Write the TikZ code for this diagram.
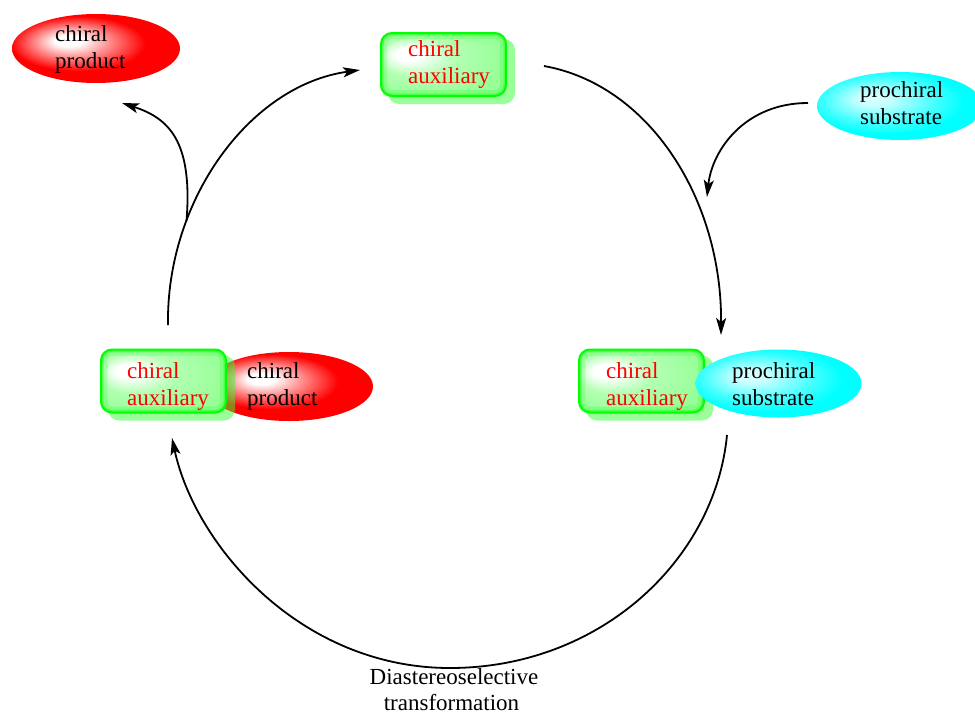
\documentclass[tikz,border=0pt]{standalone}
\usepackage{fontspec}
\setmainfont{Liberation Serif}
\usetikzlibrary{arrows.meta,shapes.geometric}

\pgfdeclareradialshading{redell}{\pgfpoint{-9bp}{6bp}}{color(0bp)=(white); color(4bp)=(white); color(11bp)=(red!45!white); color(20bp)=(red); color(50bp)=(red)}
\pgfdeclareradialshading{cyanell}{\pgfpoint{-9bp}{6bp}}{color(0bp)=(cyan!12!white); color(5bp)=(cyan!22!white); color(17bp)=(cyan!75!white); color(24bp)=(cyan); color(50bp)=(cyan)}
\pgfdeclareradialshading{grnbox}{\pgfpoint{-16bp}{9bp}}{color(0bp)=(white); color(5bp)=(white); color(16bp)=(green!30!white); color(30bp)=(green!40!white); color(50bp)=(green!45!white)}

\newcommand\twoln[2]{\begin{tabular}[t]{@{}l@{}}#1\\#2\end{tabular}}

\tikzset{
  every node/.style={font=\fontsize{23}{27.5}\selectfont, inner sep=0pt},
  redellipse/.style={ellipse, shading=redell, minimum width=168pt, minimum height=69pt},
  cyanellipse/.style={ellipse, shading=cyanell, minimum width=166pt, minimum height=68pt},
  auxbox/.style={rectangle, rounded corners=11pt, shading=grnbox, draw=green, line width=2pt,
    minimum width=125pt, minimum height=63pt,
    path picture={
      \draw[green, opacity=0.18, line width=12pt, rounded corners=11pt]
        (path picture bounding box.south west) rectangle (path picture bounding box.north east);
      \draw[green, opacity=0.4, line width=5pt, rounded corners=11pt]
        (path picture bounding box.south west) rectangle (path picture bounding box.north east);
    }},
  auxshadow/.style={rectangle, rounded corners=11pt, fill=green!80!white, opacity=0.5, minimum width=127pt, minimum height=65pt},
  redtxt/.style={text=red, anchor=base west},
  blktxt/.style={text=black, anchor=base west},
  conn/.style={draw=black, line width=1.8pt, -{Stealth[length=17pt,width=10pt,inset=4pt]}},
}

\begin{document}
\begin{tikzpicture}[x=1pt,y=-1pt]
\useasboundingbox (0,0) rectangle (975,715);

% top-left chiral product
\node[redellipse] (tlell) at (96,48.5) {};
\node[blktxt] (tltxt) at (55,41) {\twoln{chiral}{product}};

% top chiral auxiliary
\node[auxshadow] (topsh) at (451.5,71.5) {};
\node[auxbox] (topbox) at (443.5,64.5) {};
\node[redtxt] (toptxt) at (408,56) {\twoln{chiral}{auxiliary}};

% top-right prochiral substrate
\node[cyanellipse] (trell) at (900,106) {};
\node[blktxt] (trtxt) at (860,97) {\twoln{prochiral}{substrate}};

% left group
\node[redellipse] (lell) at (289,386.5) {};
\node[auxshadow] (lsh) at (171.5,388) {};
\node[auxbox] (lbox) at (163.5,381) {};
\node[redtxt] (lauxtxt) at (127,378) {\twoln{chiral}{auxiliary}};
\node[blktxt] (lprodtxt) at (247,378) {\twoln{chiral}{product}};

% right group
\node[auxshadow] (rsh) at (649.5,388) {};
\node[auxbox] (rbox) at (641.5,381) {};
\node[cyanellipse] (rell) at (778.5,383.5) {};
\node[redtxt] (rauxtxt) at (606,378) {\twoln{chiral}{auxiliary}};
\node[blktxt] (rsubtxt) at (732,378) {\twoln{prochiral}{substrate}};

% bottom label
\node[anchor=base] (diast1) at (454,684) {Diastereoselective};
\node[anchor=base] (diast2) at (451.5,710) {transformation};

% connector end points
\coordinate (a1s) at (544,66);
\coordinate (a1e) at (721,335);
\coordinate (b1s) at (727,435);
\coordinate (bmid) at (450,668);
\coordinate (b1e) at (172,438);
\coordinate (c1s) at (168,325);
\coordinate (c1e) at (360,70);
\coordinate (d1s) at (808,103);
\coordinate (d1e) at (707,197);
\coordinate (e1e) at (122,103);

% arcs
\draw[conn] (a1s) .. controls (650,85) and (722,200) .. (a1e);
\draw[conn] (b1s) .. controls (715,560) and (600,668) .. (bmid) .. controls (300,668) and (195,545) .. (b1e);
\draw[conn] (c1s) .. controls (166,200) and (250,85) .. (c1e) coordinate[pos=0.29] (jn);
\draw[conn] (d1s) .. controls (745,103) and (712,150) .. (d1e);
\draw[conn] (jn) .. controls (193,140) and (168,118) .. (e1e);
\end{tikzpicture}
\end{document}
